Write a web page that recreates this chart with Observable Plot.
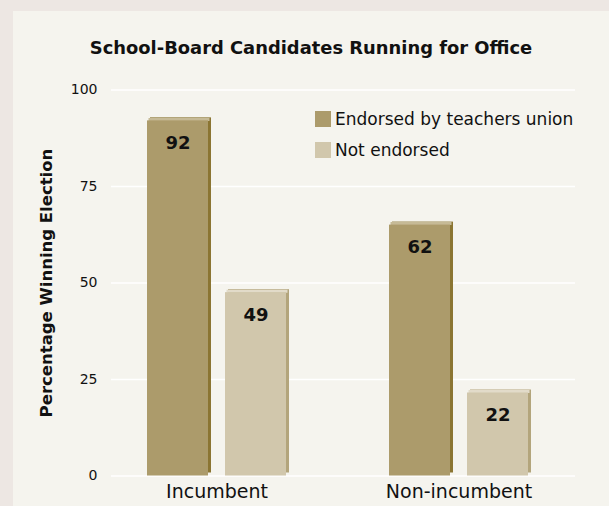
<!DOCTYPE html>
<html><head><meta charset="utf-8">
<script src="https://cdn.jsdelivr.net/npm/d3@7"></script>
<script src="https://cdn.jsdelivr.net/npm/@observablehq/plot@0.6"></script>
<style>
html,body{margin:0;padding:0;}
body{background:#ede7e3;width:609px;height:506px;overflow:hidden;position:relative;}
#panel{position:absolute;left:13px;top:11px;width:596px;height:495px;background:#f5f4ee;}
#title{position:absolute;left:0;top:27px;width:596px;text-align:center;font-family:"DejaVu Sans";font-weight:bold;font-size:17.9px;line-height:20px;color:#111;}
#bg,#chart{position:absolute;left:0;top:0;}
#ylabel{position:absolute;left:33.5px;top:272px;width:0;height:0;}
#ylabel span{position:absolute;left:0;top:0;white-space:nowrap;transform:translate(-50%,-50%) rotate(-90deg);font-family:"DejaVu Sans";font-weight:bold;font-size:16.5px;line-height:20px;color:#111;}
#legend{position:absolute;left:302px;top:100px;font-family:"DejaVu Sans";font-size:17px;color:#111;}
.item{display:flex;align-items:center;height:16px;margin-bottom:15px;}
.sw{width:16px;height:16px;margin-right:4px;}
</style>
</head><body>
<div id="panel">
  <div id="bg"></div>
  <div id="chart"></div>
  <div id="title"></div>
  <div id="ylabel"><span></span></div>
  <div id="legend"></div>
</div>
<script>
const title = "School-Board Candidates Running for Office";
const yLabel = "Percentage Winning Election";
const groups = ["Incumbent", "Non-incumbent"];
const series = ["Endorsed by teachers union", "Not endorsed"];
const endorsedValues = [92, 65];
const notEndorsedValues = [47.5, 21.5];
const endorsedLabels = ["92", "62"];
const notEndorsedLabels = ["49", "22"];
const yTicks = [0, 25, 50, 75, 100];
const frontColors = ["#ac9b6b", "#d1c7ac"];
const sideColors = ["#8b7532", "#b3a57c"];
const topColors = ["#c6ba96", "#e2dbc9"];

const seriesValues = [endorsedValues, notEndorsedValues];
const seriesLabels = [endorsedLabels, notEndorsedLabels];
const rows = [];
series.forEach((s, si) => groups.forEach((g, gi) => {
  rows.push({group: g, series: s, si, value: seriesValues[si][gi], label: seriesLabels[si][gi]});
}));

document.getElementById("title").textContent = title;
document.querySelector("#ylabel span").textContent = yLabel;
const legend = document.getElementById("legend");
series.forEach((s, si) => {
  const it = document.createElement("div"); it.className = "item";
  const sw = document.createElement("div"); sw.className = "sw"; sw.style.background = frontColors[si];
  const tx = document.createElement("span"); tx.textContent = s;
  it.appendChild(sw); it.appendChild(tx); legend.appendChild(it);
});

const common = {
  width: 596,
  height: 495,
  marginLeft: 98,
  marginRight: 34,
  marginTop: 78.5,
  marginBottom: 30.5,
  style: {background: "transparent", color: "#111"},
  y: {domain: [0, 100], axis: null, label: null}
};

// Background layer: gridlines and y tick labels
const bg = Plot.plot({
  ...common,
  marks: [
    Plot.ruleY(yTicks, {y: d => d, stroke: "#ffffff", strokeWidth: 1.5}),
    Plot.text(yTicks, {y: d => d, text: d => String(d), frameAnchor: "left", textAnchor: "end", dx: -14, fontFamily: "DejaVu Sans", fontSize: 14, fill: "#111"})
  ]
});
document.getElementById("bg").appendChild(bg);

const barMarks = [];
series.forEach((s, si) => {
  const d = rows.filter(r => r.si === si);
  barMarks.push(Plot.barY(d, {fx: "group", x: "series", y: "value", fill: sideColors[si], dx: 3, dy: -3}));
  barMarks.push(Plot.tickY(d, {fx: "group", x: "series", y: "value", stroke: topColors[si], strokeWidth: 3, dx: 1.5, dy: -1.5}));
  barMarks.push(Plot.barY(d, {fx: "group", x: "series", y: "value", fill: frontColors[si]}));
});

const chart = Plot.plot({
  ...common,
  fx: {domain: groups, paddingInner: 0.417, paddingOuter: 0.167, align: 0.436, axis: null, label: null},
  x: {domain: series, paddingInner: 0.215, paddingOuter: 0, axis: null, label: null},
  marks: [
    ...barMarks,
    Plot.text(rows, {fx: "group", x: "series", y: "value", text: "label", dy: 22.5, fontFamily: "DejaVu Sans", fontWeight: "bold", fontSize: 18, fill: "#111"}),
    Plot.text(groups, {fx: d => d, text: d => d, frameAnchor: "bottom", dy: 22.4, fontFamily: "DejaVu Sans", fontSize: 19, fill: "#111"})
  ]
});
document.getElementById("chart").appendChild(chart);
</script>
</body></html>
